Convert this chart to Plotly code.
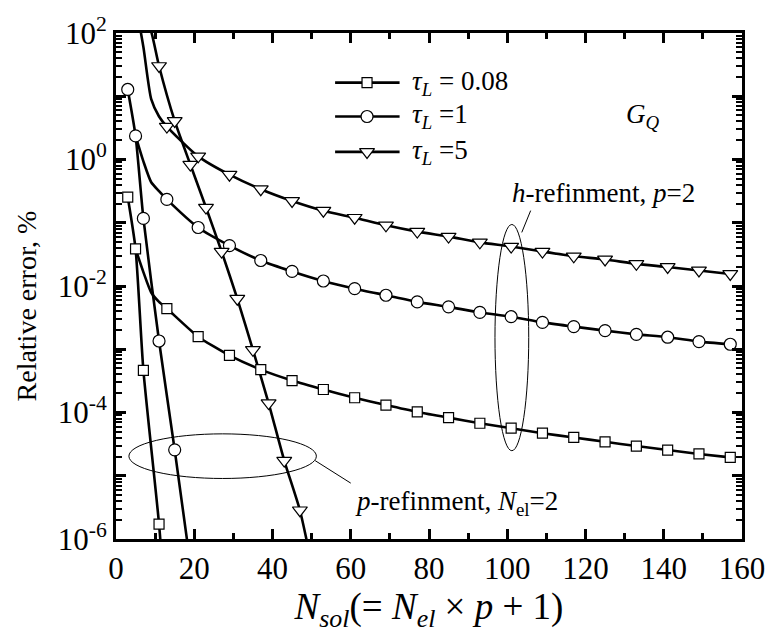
import plotly.graph_objects as go

# ---------------- data (relative error, %) ----------------
# h-refinement, p = 2  (N_sol = 2*N_el + 1)
N_H = [5, 7, 9, 11, 13, 21, 29, 37, 45, 53, 61, 69, 77, 85, 93, 101, 109, 117, 125, 133, 141, 149, 157]
ERR_H_T008 = [0.0385, 0.0166, 7.9e-3, 5.6e-3, 4.4e-3, 1.58e-3, 7.98e-4, 4.76e-4, 3.20e-4, 2.31e-4,
              1.71e-4, 1.31e-4, 1.02e-4, 8.3e-5, 6.76e-5, 5.65e-5, 4.71e-5, 4.03e-5, 3.44e-5,
              2.95e-5, 2.55e-5, 2.21e-5, 1.95e-5]
ERR_H_T1 = [2.36, 0.933, 0.437, 0.316, 0.234, 0.0841, 0.0435, 0.0253, 0.0170, 0.0120,
            9.08e-3, 7.14e-3, 5.61e-3, 4.68e-3, 3.82e-3, 3.27e-3, 2.66e-3, 2.28e-3, 1.97e-3,
            1.72e-3, 1.55e-3, 1.32e-3, 1.20e-3]
ERR_H_T5 = [300, 60, 9.0, 4.79, 3.31, 1.12, 0.575, 0.339, 0.221, 0.155,
            0.120, 0.0912, 0.0724, 0.0603, 0.0490, 0.0420, 0.0350, 0.0295, 0.0263,
            0.0224, 0.0200, 0.0176, 0.0155]
H_MARKS = [5, 13, 21, 29, 37, 45, 53, 61, 69, 77, 85, 93, 101, 109, 117, 125, 133, 141, 149, 157]

# p-refinement, N_el = 2  (N_sol = 2*p + 1)
N_P_T008 = [3, 5, 7, 11, 13]
ERR_P_T008 = [0.255, 0.0385, 4.65e-4, 1.72e-6, 4e-8]
P_MARKS_T008 = [3, 7, 11]

N_P_T1 = [3, 5, 7, 11, 15, 19]
ERR_P_T1 = [12.8, 2.36, 0.117, 1.35e-3, 2.57e-5, 4.0e-7]
P_MARKS_T1 = [3, 7, 11, 15]

N_P_T5 = [5, 7, 9, 11, 15, 19, 23, 27, 31, 35, 39, 43, 47, 51]
ERR_P_T5 = [300, 200, 105, 30.1, 4.07, 0.832, 0.174, 0.0350, 6.31e-3, 9.77e-4, 1.41e-4, 1.74e-5, 2.85e-6, 2.0e-7]
P_MARKS_T5 = [11, 15, 19, 23, 27, 31, 35, 39, 43, 47]

SERIES_LABELS = ["<i>τ</i><sub><i>L</i></sub> = 0.08", "<i>τ</i><sub><i>L</i></sub> =1", "<i>τ</i><sub><i>L</i></sub> =5"]
X_TICKS = [0, 20, 40, 60, 80, 100, 120, 140, 160]
Y_TICKS = [1e2, 1e1, 1e0, 1e-1, 1e-2, 1e-3, 1e-4, 1e-5, 1e-6]
Y_TICKTEXT = ["10<sup>2</sup>", "", "10<sup>0</sup>", "", "10<sup>-2</sup>", "", "10<sup>-4</sup>", "", "10<sup>-6</sup>"]

FONT = "Times New Roman, Liberation Serif, DejaVu Serif, serif"
SYMBOLS = ["square", "circle", "triangle-down"]
SIZES = [10, 12, 13]

curves = [
    (N_H, ERR_H_T008, H_MARKS, 0), (N_P_T008, ERR_P_T008, P_MARKS_T008, 0),
    (N_H, ERR_H_T1, H_MARKS, 1), (N_P_T1, ERR_P_T1, P_MARKS_T1, 1),
    (N_H, ERR_H_T5, H_MARKS, 2), (N_P_T5, ERR_P_T5, P_MARKS_T5, 2),
]

fig = go.Figure()
for xs, ys, _, _ in curves:
    fig.add_trace(go.Scatter(x=xs, y=ys, mode="lines",
                             line=dict(color="black", width=2.6, shape="spline", smoothing=0.6),
                             showlegend=False, hoverinfo="skip"))
for xs, ys, marks, k in curves:
    mx = [x for x in xs if x in marks]
    my = [y for x, y in zip(xs, ys) if x in marks]
    fig.add_trace(go.Scatter(x=mx, y=my, mode="markers",
                             marker=dict(symbol=SYMBOLS[k], size=SIZES[k], color="white",
                                         line=dict(color="black", width=1.2)),
                             showlegend=False, hoverinfo="skip"))

# custom legend (overlay axes in plot-area fractions)
LEG_Y = [0.902, 0.835, 0.765]
for k in range(3):
    fig.add_trace(go.Scatter(x=[0.350, 0.453], y=[LEG_Y[k], LEG_Y[k]], mode="lines",
                             line=dict(color="black", width=2.6), xaxis="x2", yaxis="y2",
                             showlegend=False, hoverinfo="skip"))
    fig.add_trace(go.Scatter(x=[0.401], y=[LEG_Y[k]], mode="markers", xaxis="x2", yaxis="y2",
                             marker=dict(symbol=SYMBOLS[k], size=SIZES[k], color="white",
                                         line=dict(color="black", width=1.2)),
                             showlegend=False, hoverinfo="skip"))
    fig.add_annotation(x=0.470, y=LEG_Y[k], xref="x2", yref="y2", text=SERIES_LABELS[k],
                       showarrow=False, xanchor="left", yanchor="middle",
                       font=dict(family=FONT, size=27, color="black"))

# ellipses and leader lines (plot-area fractions)
fig.add_shape(type="circle", xref="paper", yref="paper", x0=0.6054, x1=0.6593, y0=0.1745, y1=0.6216,
              line=dict(color="black", width=1))
fig.add_shape(type="line", xref="paper", yref="paper", x0=0.6482, y0=0.6059, x1=0.6624, y1=0.6490,
              line=dict(color="black", width=1))
fig.add_shape(type="circle", xref="paper", yref="paper", x0=0.0206, x1=0.3201, y0=0.1196, y1=0.2078,
              line=dict(color="black", width=1))
fig.add_shape(type="line", xref="paper", yref="paper", x0=0.3181, y0=0.1549, x1=0.3750, y1=0.1104,
              line=dict(color="black", width=1))

fig.add_annotation(x=0.6292, y=0.684, xref="paper", yref="paper", text="<i>h</i>-refinment, <i>p</i>=2",
                   showarrow=False, xanchor="left", yanchor="middle",
                   font=dict(family=FONT, size=27, color="black"))
fig.add_annotation(x=0.3788, y=0.072, xref="paper", yref="paper", text="<i>p</i>-refinment, <i>N</i><sub>el</sub>=2",
                   showarrow=False, xanchor="left", yanchor="middle",
                   font=dict(family=FONT, size=27, color="black"))
fig.add_annotation(x=0.8114, y=0.835, xref="paper", yref="paper", text="<i>G</i><sub><i>Q</i></sub>",
                   showarrow=False, xanchor="left", yanchor="middle",
                   font=dict(family=FONT, size=27, color="black"))
# y-axis title (placed as in the reference, slightly below the plot centre)
fig.add_annotation(x=-0.1426, y=0.461, xref="paper", yref="paper", text="Relative error, %",
                   textangle=-90, showarrow=False, xanchor="center", yanchor="middle",
                   font=dict(family=FONT, size=28, color="black"))

axis_common = dict(showline=True, linecolor="black", linewidth=3, mirror="allticks",
                   ticks="inside", ticklen=10, tickwidth=3, tickcolor="black",
                   showgrid=False, zeroline=False,
                   tickfont=dict(family=FONT, size=31, color="black"))

fig.update_layout(
    width=777, height=640, autosize=False,
    margin=dict(l=116, r=30, t=29, b=101),
    paper_bgcolor="white", plot_bgcolor="white",
    font=dict(family=FONT, color="black"),
    xaxis=dict(range=[0, 160], tickmode="array", tickvals=X_TICKS,
               minor=dict(dtick=10, ticks="inside", ticklen=6, tickwidth=3, tickcolor="black"),
               title=dict(text="<i>N</i><sub><i>sol</i></sub>(= <i>N</i><sub><i>el</i></sub> × <i>p</i> + 1)",
                          font=dict(family=FONT, size=37, color="black"), standoff=4),
               **axis_common),
    yaxis=dict(type="log", range=[-6, 2], tickmode="array", tickvals=Y_TICKS, ticktext=Y_TICKTEXT,
               minor=dict(dtick="D1", ticks="inside", ticklen=6, tickwidth=2, tickcolor="black"),
               **axis_common),
    xaxis2=dict(overlaying="x", range=[0, 1], visible=False),
    yaxis2=dict(overlaying="y", range=[0, 1], visible=False),
)

fig.write_html("out.html")
